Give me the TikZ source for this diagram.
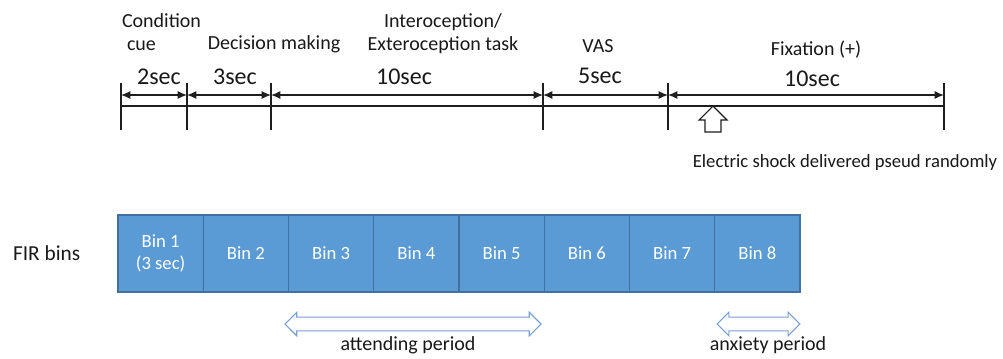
\documentclass[tikz,border=0pt]{standalone}
\usepackage{fontspec}
\setmainfont{Carlito}
\usetikzlibrary{positioning, shapes.arrows, arrows.meta}

\begin{document}
\begin{tikzpicture}[x=0.75pt,y=-0.75pt,
  lbl/.style={text=textColor, inner sep=0pt, outer sep=0pt, anchor=base},
  head/.style={lbl, font=\fontsize{15}{17.25}\selectfont},
  dur/.style={lbl, font=\fontsize{18}{20}\selectfont},
  span/.style={draw=lineColor, line width=0.9pt, {Latex[length=7pt,width=6pt]}-{Latex[length=7pt,width=6pt]}},
  binbox/.style={draw=binEdge, line width=0.8pt, fill=binFill, text=white, minimum width=63.94pt, minimum height=57.75pt, inner sep=0pt, outer sep=0pt, align=center, font=\fontsize{14}{17}\selectfont},
  period/.style={double arrow, draw=arrowEdge, fill=white, line width=0.8pt, inner sep=4.8pt, double arrow head extend=3.6pt}
]
\definecolor{textColor}{RGB}{25,25,25}
\definecolor{lineColor}{RGB}{30,30,30}
\definecolor{binFill}{RGB}{91,155,213}
\definecolor{binEdge}{RGB}{65,113,156}
\definecolor{arrowEdge}{RGB}{120,160,210}

\path[use as bounding box, fill=white] (0,0) rectangle (1003,358);

% time line
\foreach \n/\x in {1/121, 2/187, 3/271, 4/543, 5/668, 6/944}{
  \coordinate (t\n) at (\x,95);
  \draw[lineColor, line width=0.9pt] (\x,83) -- (\x,130);
}
\draw[lineColor, line width=0.9pt] (121,106) -- (944,106);

\draw[span] (t1) -- (t2);
\draw[span] (t2) -- (t3);
\draw[span] (t3) -- (t4);
\draw[span] (t4) -- (t5);
\draw[span] (t5) -- (t6);

\node[dur] (d1) at (159,84) {2sec};
\node[dur] (d2) at (235,84) {3sec};
\node[dur] (d3) at (404,84) {10sec};
\node[dur] (d4) at (600,83) {5sec};
\node[dur] (d5) at (812,86) {10sec};

\node[head, anchor=base west, align=left] (cue) at (122,50) {Condition\\\hspace*{0.25em}cue};
\node[head] (decide) at (274,49) {Decision making};
\node[head, align=center] (task) at (443,50) {Interoception/\\Exteroception task};
\node[head] (vas) at (598,52) {VAS};
\node[head] (fix) at (816,55) {Fixation (+)};

% shock marker
\node[single arrow, shape border rotate=90, draw=lineColor, fill=white, line width=0.8pt,
      inner sep=5.6pt, single arrow head extend=4.5pt, minimum height=19.5pt] (shock) at (713,123) {};
\node[lbl, font=\fontsize{14}{16}\selectfont] (shocktxt) at (845,167) {Electric shock delivered pseud randomly};

% FIR bins
\node[lbl, anchor=west, font=\fontsize{16}{18}\selectfont] (fir) at (13,253) {FIR bins};
\node[binbox] (bin1) at (160.6,253.5) {Bin 1\\(3 sec)};
\node[binbox, right=0pt of bin1] (bin2) {Bin 2};
\node[binbox, right=0pt of bin2] (bin3) {Bin 3};
\node[binbox, right=0pt of bin3] (bin4) {Bin 4};
\node[binbox, right=0pt of bin4] (bin5) {Bin 5};
\node[binbox, right=0pt of bin5] (bin6) {Bin 6};
\node[binbox, right=0pt of bin6] (bin7) {Bin 7};
\node[binbox, right=0pt of bin7] (bin8) {Bin 8};

% periods
\node[period, minimum height=192pt] (attend) at (413,324) {};
\node[period, minimum height=62pt] (anx) at (758.5,324) {};
\node[lbl, font=\fontsize{15}{17}\selectfont] (attendtxt) at (408,350) {attending period};
\node[lbl, font=\fontsize{15}{17}\selectfont] (anxtxt) at (768,350) {anxiety period};
\end{tikzpicture}
\end{document}
